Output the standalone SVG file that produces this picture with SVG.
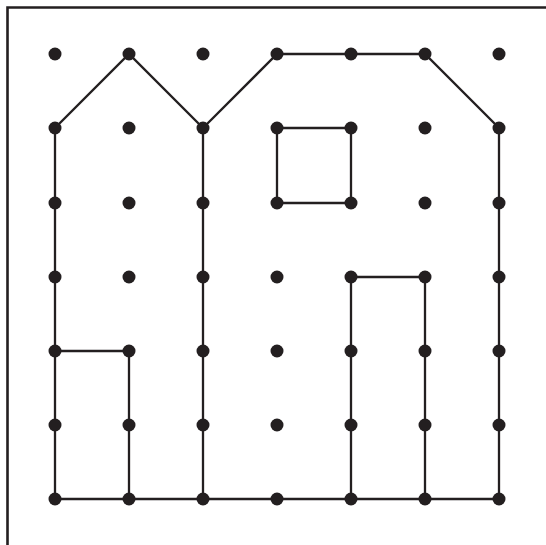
<svg xmlns="http://www.w3.org/2000/svg" width="546" height="545" viewBox="0 0 546 545">
<style>
.f{fill:none;stroke:#231f20;stroke-width:2.6}
.l{fill:none;stroke:#231f20;stroke-width:2.3;stroke-linejoin:miter}
.d{fill:#231f20}
</style>
<rect width="546" height="545" fill="#fff"/>
<g id="frame"><path class="f" d="M7.5 545V7.5H546"/></g>
<g id="connectors">
<path class="l" d="M55 499V128L129 54L203 128V499"/>
<path class="l" d="M203 128L277 54H425L499 128V499"/>
<path class="l" d="M55 499H499"/>
<path class="l" d="M277 128H351V203H277Z"/>
<path class="l" d="M55 351H129V499"/>
<path class="l" d="M351 499V277H425V499"/>
</g>
<g id="dots">
<g id="row1"><circle class="d" cx="55" cy="54" r="6.5"/><circle class="d" cx="129" cy="54" r="6.5"/><circle class="d" cx="203" cy="54" r="6.5"/><circle class="d" cx="277" cy="54" r="6.5"/><circle class="d" cx="351" cy="54" r="6.5"/><circle class="d" cx="425" cy="54" r="6.5"/><circle class="d" cx="499" cy="54" r="6.5"/></g>
<g id="row2"><circle class="d" cx="55" cy="128" r="6.5"/><circle class="d" cx="129" cy="128" r="6.5"/><circle class="d" cx="203" cy="128" r="6.5"/><circle class="d" cx="277" cy="128" r="6.5"/><circle class="d" cx="351" cy="128" r="6.5"/><circle class="d" cx="425" cy="128" r="6.5"/><circle class="d" cx="499" cy="128" r="6.5"/></g>
<g id="row3"><circle class="d" cx="55" cy="203" r="6.5"/><circle class="d" cx="129" cy="203" r="6.5"/><circle class="d" cx="203" cy="203" r="6.5"/><circle class="d" cx="277" cy="203" r="6.5"/><circle class="d" cx="351" cy="203" r="6.5"/><circle class="d" cx="425" cy="203" r="6.5"/><circle class="d" cx="499" cy="203" r="6.5"/></g>
<g id="row4"><circle class="d" cx="55" cy="277" r="6.5"/><circle class="d" cx="129" cy="277" r="6.5"/><circle class="d" cx="203" cy="277" r="6.5"/><circle class="d" cx="277" cy="277" r="6.5"/><circle class="d" cx="351" cy="277" r="6.5"/><circle class="d" cx="425" cy="277" r="6.5"/><circle class="d" cx="499" cy="277" r="6.5"/></g>
<g id="row5"><circle class="d" cx="55" cy="351" r="6.5"/><circle class="d" cx="129" cy="351" r="6.5"/><circle class="d" cx="203" cy="351" r="6.5"/><circle class="d" cx="277" cy="351" r="6.5"/><circle class="d" cx="351" cy="351" r="6.5"/><circle class="d" cx="425" cy="351" r="6.5"/><circle class="d" cx="499" cy="351" r="6.5"/></g>
<g id="row6"><circle class="d" cx="55" cy="425" r="6.5"/><circle class="d" cx="129" cy="425" r="6.5"/><circle class="d" cx="203" cy="425" r="6.5"/><circle class="d" cx="277" cy="425" r="6.5"/><circle class="d" cx="351" cy="425" r="6.5"/><circle class="d" cx="425" cy="425" r="6.5"/><circle class="d" cx="499" cy="425" r="6.5"/></g>
<g id="row7"><circle class="d" cx="55" cy="499" r="6.5"/><circle class="d" cx="129" cy="499" r="6.5"/><circle class="d" cx="203" cy="499" r="6.5"/><circle class="d" cx="277" cy="499" r="6.5"/><circle class="d" cx="351" cy="499" r="6.5"/><circle class="d" cx="425" cy="499" r="6.5"/><circle class="d" cx="499" cy="499" r="6.5"/></g>
</g>
</svg>
